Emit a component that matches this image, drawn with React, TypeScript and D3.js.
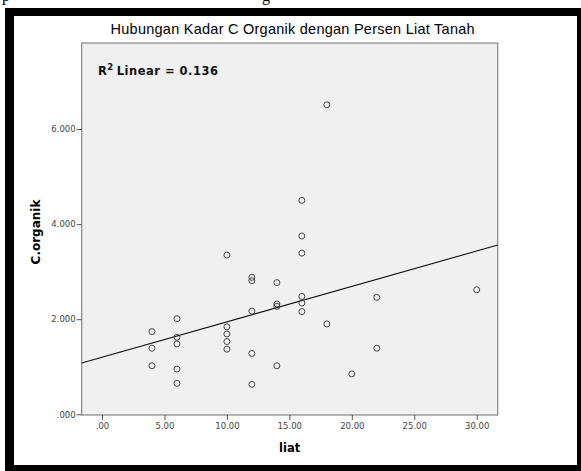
import * as d3 from "d3";
import { useEffect, useRef } from "react";

const liat = [4, 4, 4, 6, 6, 6, 6, 6, 10, 10, 10, 10, 10, 12, 12, 12, 12, 12, 14, 14, 14, 14, 16, 16, 16, 16, 16, 16, 18, 18, 20, 22, 22, 30];
const cOrganik = [
  1.74, 1.39, 1.02, 2.01, 1.62, 1.48, 0.95, 0.65, 3.35, 1.84, 1.69, 1.53, 1.37, 2.88, 2.81, 2.17, 1.28, 0.63,
  2.77, 2.32, 2.27, 1.02, 4.5, 3.75, 3.39, 2.48, 2.34, 2.16, 1.9, 6.51, 0.85, 2.46, 1.39, 2.62,
];
const xTicks = [0, 5, 10, 15, 20, 25, 30];
const yTicks = [0, 2, 4, 6];
const chartTitle = "Hubungan Kadar C Organik dengan Persen Liat Tanah";
const xLabel = "liat";
const yLabel = "C.organik";
const r2Text = "0.136";

const W = 581;
const H = 471;
const plot = { left: 81.7, right: 497.7, top: 43, bottom: 415 };

function App() {
  const ref = useRef<SVGSVGElement | null>(null);

  useEffect(() => {
    const svg = d3.select(ref.current);
    svg.selectAll("*").remove();

    const x = d3.scaleLinear().domain([-1.625, 31.68]).range([plot.left, plot.right]);
    const y = d3.scaleLinear().domain([-0.015, 7.81]).range([plot.bottom, plot.top]);

    // bits of the page text above the frame (cut off in the source too)
    svg.append("text").attr("x", 2).attr("y", 1).attr("font-family", "Liberation Serif").attr("font-size", 16).text("p");
    svg.append("text").attr("x", 262).attr("y", 1).attr("font-family", "Liberation Serif").attr("font-size", 16).text("g");

    // frame
    svg.append("rect").attr("x", 5).attr("y", 8).attr("width", W - 5).attr("height", 463).attr("fill", "#000");
    svg.append("rect").attr("x", 14).attr("y", 16).attr("width", 563).attr("height", 449).attr("fill", "#fff");

    svg
      .append("text")
      .attr("x", (plot.left + plot.right) / 2 + 3)
      .attr("y", 34)
      .attr("text-anchor", "middle")
      .attr("font-family", "Liberation Sans")
      .attr("font-size", 14.5)
      .attr("letter-spacing", 0.25)
      .attr("fill", "#000")
      .text(chartTitle);

    svg
      .append("rect")
      .attr("x", plot.left)
      .attr("y", plot.top)
      .attr("width", plot.right - plot.left)
      .attr("height", plot.bottom - plot.top)
      .attr("fill", "#f0f0f0")
      .attr("stroke", "#858585")
      .attr("stroke-width", 1.2);

    const fmtY = (v: number) => d3.format(".3f")(v).replace(/^0/, "");
    const fmtX = (v: number) => d3.format(".2f")(v).replace(/^0/, "");

    const yAxis = svg
      .append("g")
      .attr("transform", `translate(${plot.left},0)`)
      .call(d3.axisLeft(y).tickValues(yTicks).tickFormat((d) => fmtY(+d)).tickSize(5).tickPadding(1));
    yAxis.select(".domain").remove();
    yAxis.selectAll("line").attr("stroke", "#555");
    yAxis.selectAll("text").attr("font-family", "DejaVu Sans").attr("font-size", 8.5).attr("fill", "#444");

    const xAxis = svg
      .append("g")
      .attr("transform", `translate(0,${plot.bottom})`)
      .call(d3.axisBottom(x).tickValues(xTicks).tickFormat((d) => fmtX(+d)).tickSize(5).tickPadding(3));
    xAxis.select(".domain").remove();
    xAxis.selectAll("line").attr("stroke", "#555");
    xAxis.selectAll("text").attr("font-family", "DejaVu Sans").attr("font-size", 8.5).attr("fill", "#444");

    svg
      .append("text")
      .attr("x", (plot.left + plot.right) / 2)
      .attr("y", 452)
      .attr("text-anchor", "middle")
      .attr("font-family", "DejaVu Sans")
      .attr("font-weight", "bold")
      .attr("font-size", 11.5)
      .text(xLabel);

    svg
      .append("text")
      .attr("transform", `translate(40,${(plot.top + plot.bottom) / 2 + 3}) rotate(-90)`)
      .attr("text-anchor", "middle")
      .attr("font-family", "DejaVu Sans")
      .attr("font-weight", "bold")
      .attr("font-size", 12)
      .text(yLabel);

    // least squares fit
    const mx = d3.mean(liat) as number;
    const my = d3.mean(cOrganik) as number;
    let sxy = 0;
    let sxx = 0;
    liat.forEach((v, i) => {
      sxy += (v - mx) * (cOrganik[i] - my);
      sxx += (v - mx) * (v - mx);
    });
    const slope = sxy / sxx;
    const intercept = my - slope * mx;
    const [x0, x1] = x.domain();
    const line = d3
      .line<number>()
      .x((d) => x(d))
      .y((d) => y(intercept + slope * d));
    svg
      .append("path")
      .attr("d", line([x0, x1]))
      .attr("fill", "none")
      .attr("stroke", "#111")
      .attr("stroke-width", 1.1);

    svg
      .append("g")
      .selectAll("circle")
      .data(liat)
      .join("circle")
      .attr("cx", (d) => x(d))
      .attr("cy", (_, i) => y(cOrganik[i]))
      .attr("r", 3)
      .attr("fill", "none")
      .attr("stroke", "#444")
      .attr("stroke-width", 1);

    const r2 = svg
      .append("text")
      .attr("x", 98)
      .attr("y", 75)
      .attr("font-family", "DejaVu Sans")
      .attr("font-size", 11.5)
      .attr("font-weight", "bold")
      .attr("letter-spacing", 0.5)
      .attr("fill", "#111");
    r2.append("tspan").text("R");
    r2.append("tspan").attr("dy", -5).attr("font-size", 8.5).text("2");
    r2.append("tspan").attr("dy", 5).attr("dx", 3).text(`Linear = ${r2Text}`);
  }, []);

  return <svg ref={ref} width={W} height={H} style={{ position: "absolute", left: 0, top: 0 }} />;
}

export default App;
